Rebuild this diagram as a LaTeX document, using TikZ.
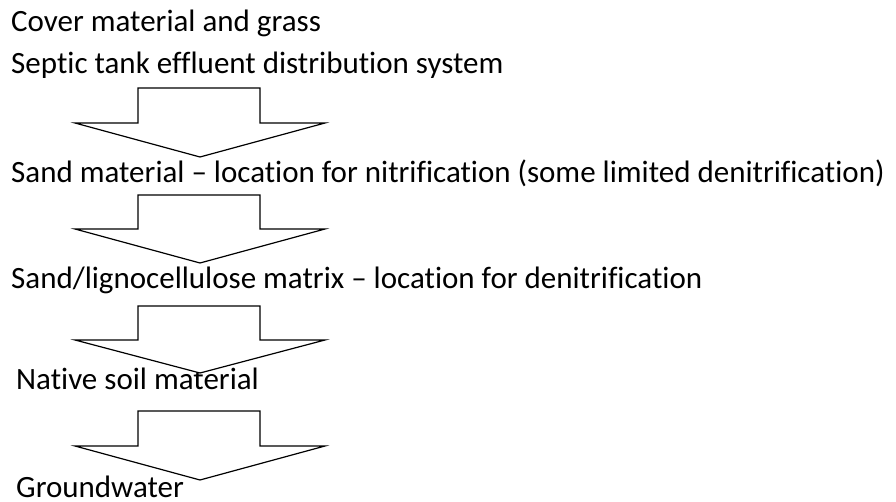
\documentclass[tikz,border=0pt]{standalone}
\usepackage{fontspec}
\setmainfont{Carlito}[Ligatures={NoCommon}]
\begin{document}
\begin{tikzpicture}[x=1pt,y=-1pt,
  lbl/.style={anchor=base west,inner sep=0pt,font=\fontsize{31}{36}\selectfont},
  downarrow/.style={draw=black,line width=1.2pt,fill=white,line join=miter}]
\useasboundingbox (0,0) rectangle (896,502);
\node[lbl] (t1) at (11,32) {Cover material and grass};
\node[lbl] (t2) at (11,74) {Septic tank effluent distribution system};
\node[lbl] (t3) at (11,183) {Sand material – location for nitrification (some limited denitrification)};
\node[lbl] (t4) at (11,289) {Sand/lignocellulose matrix – location for denitrification};
\node[lbl] (t5) at (16,389) {Native soil material};
\node[lbl] (t6) at (16,497) {Groundwater};
\foreach \top/\sh/\tip in {88/123/157, 195/229/263, 306/340/373, 411/446/480}{
  \draw[downarrow] (138,\top) -- (260,\top) -- (260,\sh) -- (325,\sh) -- (200,\tip) -- (75,\sh) -- (138,\sh) -- cycle;
}
\end{tikzpicture}
\end{document}
